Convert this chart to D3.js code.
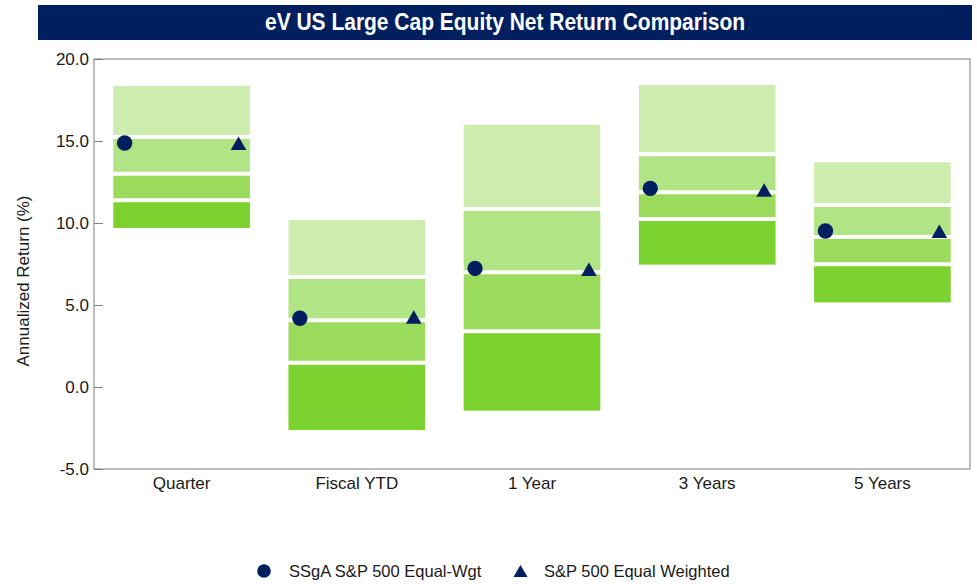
<!DOCTYPE html>
<html>
<head>
<meta charset="utf-8">
<script src="https://cdn.jsdelivr.net/npm/d3@7"></script>
<style>
  html, body { margin: 0; padding: 0; background: #fff; }
  svg { display: block; }
  text { font-family: "Liberation Sans", Arial, sans-serif; fill: #1a1a1a; }
</style>
</head>
<body>
<svg id="chart" width="977" height="584"></svg>
<script>
// Peer universe percentile ranges (5th / 25th / median / 75th / 95th) per period
const categories = ["Quarter", "Fiscal YTD", "1 Year", "3 Years", "5 Years"];
const p5     = [18.35, 10.18, 15.98, 18.41, 13.70];
const p25    = [15.24,  6.71, 10.85, 14.19, 11.10];
const median = [13.00,  4.07,  6.99, 11.87,  9.15];
const p75    = [11.38,  1.48,  3.40, 10.24,  7.48];
const p95    = [ 9.70, -2.62, -1.44,  7.46,  5.16];

// Fund and benchmark returns
const fundName  = "SSgA S&P 500 Equal-Wgt";
const indexName = "S&P 500 Equal Weighted";
const fund  = [14.88, 4.19, 7.23, 12.11, 9.51];
const index = [14.86, 4.27, 7.18, 12.01, 9.50];

const yTicks = [-5, 0, 5, 10, 15, 20];
const titleText = "eV US Large Cap Equity Net Return Comparison";
const yTitle = "Annualized Return (%)";

const svg = d3.select("#chart");
const W = 977, H = 584;
const m = { left: 94, right: 7, top: 59, bottom: 115 };
const plotW = W - m.left - m.right;
const plotH = H - m.top - m.bottom;

const navy = "#001f5f";
const bandColors = ["#cdedae", "#b1e484", "#9bdb5b", "#7bd22e"];

// Title bar
svg.append("rect")
  .attr("x", 38).attr("y", 5).attr("width", 934).attr("height", 35)
  .attr("fill", navy);
svg.append("text")
  .attr("x", 505).attr("y", 30)
  .attr("text-anchor", "middle")
  .attr("textLength", 480)
  .attr("lengthAdjust", "spacingAndGlyphs")
  .style("font-family", "'Liberation Sans Narrow', 'Arial Narrow', 'Liberation Sans', sans-serif")
  .style("font-weight", "bold")
  .style("font-size", "24px")
  .style("fill", "#ffffff")
  .text(titleText);

const g = svg.append("g").attr("transform", `translate(${m.left},${m.top})`);

const x = d3.scaleBand().domain(categories).range([0, plotW]).paddingInner(0).paddingOuter(0);
const y = d3.scaleLinear().domain([-5, 20]).range([plotH, 0]);

const boxW = x.bandwidth() * 0.78;
const markerOff = x.bandwidth() * 0.325;

// Percentile bands
categories.forEach((c, i) => {
  const edges = [p5[i], p25[i], median[i], p75[i], p95[i]];
  const cx = x(c) + x.bandwidth() / 2;
  for (let k = 0; k < 4; k++) {
    g.append("rect")
      .attr("x", cx - boxW / 2)
      .attr("y", y(edges[k]))
      .attr("width", boxW)
      .attr("height", y(edges[k + 1]) - y(edges[k]))
      .attr("fill", bandColors[k]);
  }
  // white separators at the inner percentile breaks
  [p25[i], median[i], p75[i]].forEach(v => {
    g.append("line")
      .attr("x1", cx - boxW / 2 - 1).attr("x2", cx + boxW / 2 + 1)
      .attr("y1", y(v)).attr("y2", y(v))
      .attr("stroke", "#fff").attr("stroke-width", 4);
  });
});

// Frame
g.append("rect")
  .attr("x", 0).attr("y", 0).attr("width", plotW).attr("height", plotH)
  .attr("fill", "none").attr("stroke", "#808080").attr("stroke-width", 1);

// Y axis (hyphen-minus for negatives)
const fmt = d => d.toFixed(1);
const yAxis = d3.axisLeft(y).tickValues(yTicks).tickFormat(fmt).tickSize(-9).tickPadding(5);
const ya = g.append("g").call(yAxis);
ya.select(".domain").remove();
ya.selectAll(".tick line").attr("stroke", "#808080");
ya.selectAll(".tick text")
  .style("font-family", "'Liberation Sans', Arial, sans-serif")
  .style("font-size", "17px").attr("fill", "#1a1a1a");

// X axis labels
const xAxis = d3.axisBottom(x).tickSize(0).tickPadding(8);
const xa = g.append("g").attr("transform", `translate(0,${plotH})`).call(xAxis);
xa.select(".domain").remove();
xa.selectAll(".tick text")
  .style("font-family", "'Liberation Sans', Arial, sans-serif")
  .style("font-size", "17px").attr("fill", "#1a1a1a");

// Y title
svg.append("text")
  .attr("transform", `translate(29,281) rotate(-90)`)
  .attr("text-anchor", "middle")
  .style("font-size", "17px")
  .text(yTitle);

// Triangle path centred on its bounding box
function triPath(w) {
  const h = w * Math.sqrt(3) / 2;
  return `M0,${-h / 2}L${w / 2},${h / 2}L${-w / 2},${h / 2}Z`;
}

// Fund markers (circles)
g.selectAll("circle.fund").data(fund).join("circle")
  .attr("class", "fund")
  .attr("cx", (d, i) => x(categories[i]) + x.bandwidth() / 2 - markerOff)
  .attr("cy", d => y(d))
  .attr("r", 7.7)
  .attr("fill", navy);

// Benchmark markers (triangles)
g.selectAll("path.index").data(index).join("path")
  .attr("class", "index")
  .attr("d", triPath(15.7))
  .attr("transform", (d, i) => `translate(${x(categories[i]) + x.bandwidth() / 2 + markerOff},${y(d)})`)
  .attr("fill", navy);

// Legend
const leg = svg.append("g");
leg.append("circle").attr("cx", 264).attr("cy", 571).attr("r", 6.8).attr("fill", navy);
leg.append("text").attr("x", 289).attr("y", 577).style("font-size", "16.5px").text(fundName);
leg.append("path").attr("d", triPath(14)).attr("transform", "translate(520.5,571)").attr("fill", navy);
leg.append("text").attr("x", 544).attr("y", 577).style("font-size", "16.5px").text(indexName);
</script>
</body>
</html>
